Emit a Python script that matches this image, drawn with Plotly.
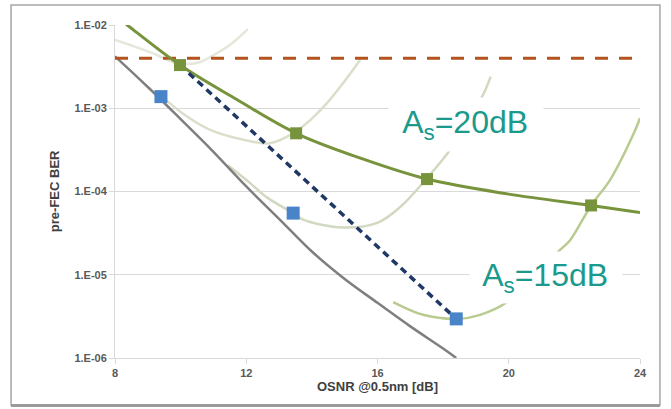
import plotly.graph_objects as go

# ---------------- data (OSNR in dB, BER) ----------------
b2b_osnr = [8.0, 9.0, 10.0, 11.0, 12.0, 13.0, 14.0, 15.0, 16.0, 17.0, 18.0, 18.4]
b2b_ber = [4.2e-3, 1.8e-3, 7.4e-4, 3.0e-4, 1.15e-4, 4.7e-5, 1.9e-5, 8.9e-6, 4.6e-6, 2.4e-6, 1.3e-6, 1.0e-6]

p0_osnr = [8.0, 8.6, 9.2, 9.8, 10.2, 10.6, 11.0, 11.5, 12.05]
p0_ber = [6.6e-3, 5.5e-3, 4.5e-3, 3.55e-3, 3.4e-3, 3.6e-3, 4.35e-3, 5.75e-3, 8.9e-3]

p1_osnr = [9.37, 10.13, 10.9, 11.9, 12.73, 13.43, 13.95, 14.46, 14.95, 15.47]
p1_ber = [1.45e-3, 8.3e-4, 5.5e-4, 4.2e-4, 3.8e-4, 5.0e-4, 7.2e-4, 1.15e-3, 2.0e-3, 3.8e-3]

p2_osnr = [11.45, 12.12, 12.63, 13.43, 13.73, 14.95, 15.99, 16.69, 17.51, 18.27, 19.19, 19.45]
p2_ber = [2.05e-4, 1.26e-4, 8.5e-5, 5.5e-5, 4.6e-5, 3.7e-5, 4.2e-5, 6.5e-5, 1.45e-4, 3.4e-4, 1.38e-3, 2.4e-3]

p3_osnr = [16.48, 17.39, 18.43, 19.13, 19.95, 21.57, 21.87, 22.51, 23.09, 23.79, 24.0]
p3_ber = [4.7e-6, 3.3e-6, 2.95e-6, 3.3e-6, 4.7e-6, 2.0e-5, 2.6e-5, 6.8e-5, 1.38e-4, 4.8e-4, 7.6e-4]

env20_osnr = [8.0, 8.37, 9.98, 11.7, 13.52, 15.5, 17.51, 20.0, 22.51, 24.0]
env20_ber = [1.3e-2, 1.0e-2, 3.3e-3, 1.28e-3, 5.0e-4, 2.5e-4, 1.41e-4, 9.3e-5, 6.8e-5, 5.6e-5]

sq20_osnr = [9.98, 13.52, 17.51, 22.51]
sq20_ber = [3.3e-3, 5.0e-4, 1.41e-4, 6.8e-5]

line15_osnr = [9.98, 18.4]
line15_ber = [3.3e-3, 2.95e-6]

sq15_osnr = [9.4, 13.43, 18.4]
sq15_ber = [1.38e-3, 5.5e-5, 2.95e-6]

fec_osnr = [8.0, 24.0]
fec_ber = [4.0e-3, 4.0e-3]

y_ticks = [1e-6, 1e-5, 1e-4, 1e-3, 1e-2]
y_tick_text = ["1.E-06", "1.E-05", "1.E-04", "1.E-03", "1.E-02"]
x_ticks = [8, 12, 16, 20, 24]

# ---------------- figure ----------------
fig = go.Figure()

def pale(x, y, color):
    fig.add_trace(go.Scatter(x=x, y=y, mode="lines", line=dict(color=color, width=2.5, shape="spline"),
                             hoverinfo="skip"))

pale(p0_osnr, p0_ber, "#e4e8db")
pale(p1_osnr, p1_ber, "#d9dfca")
pale(p2_osnr, p2_ber, "#d2d9c1")
pale(p3_osnr, p3_ber, "#b9cb90")

fig.add_trace(go.Scatter(x=b2b_osnr, y=b2b_ber, mode="lines",
                         line=dict(color="#7f7f7f", width=2.5, shape="spline")))
fig.add_trace(go.Scatter(x=fec_osnr, y=fec_ber, mode="lines",
                         line=dict(color="#b4541c", width=3, dash="13px,11px")))
fig.add_trace(go.Scatter(x=env20_osnr, y=env20_ber, mode="lines",
                         line=dict(color="#77933c", width=3, shape="spline")))
fig.add_trace(go.Scatter(x=line15_osnr, y=line15_ber, mode="lines",
                         line=dict(color="#1f3864", width=3.5, dash="7px,5px")))
fig.add_trace(go.Scatter(x=sq20_osnr, y=sq20_ber, mode="markers",
                         marker=dict(symbol="square", size=12, color="#77933c", line=dict(width=0))))
fig.add_trace(go.Scatter(x=sq15_osnr, y=sq15_ber, mode="markers",
                         marker=dict(symbol="square", size=13, color="#4a84c8", line=dict(width=0))))

tickfont = dict(family="Liberation Sans, Arial", size=11, color="#595959", weight="bold")

fig.update_layout(
    width=671, height=409,
    margin=dict(l=115, r=31, t=25, b=51),
    paper_bgcolor="white", plot_bgcolor="white",
    showlegend=False,
    xaxis=dict(range=[8, 24], tickvals=x_ticks, ticktext=[str(v) for v in x_ticks],
               showgrid=False, zeroline=False, showline=True, linecolor="#d9d9d9", linewidth=1,
               ticks="outside", ticklen=5, tickcolor="#d9d9d9",
               tickfont=tickfont),
    yaxis=dict(type="log", range=[-6, -2], tickvals=y_ticks, ticktext=y_tick_text,
               showgrid=True, gridcolor="#d9d9d9", gridwidth=1, zeroline=False,
               showline=True, linecolor="#d9d9d9", linewidth=1,
               ticks="outside", ticklen=5, tickcolor="#d9d9d9",
               tickfont=tickfont),
    annotations=[
        dict(text="<b>pre-FEC BER</b>", xref="paper", yref="paper", x=-0.133, y=0.50,
             textangle=-90, showarrow=False, font=dict(family="Liberation Sans, Arial", size=13, color="#404040")),
        dict(text="<b>OSNR @0.5nm [dB]</b>", xref="paper", yref="paper", x=0.5, y=-0.114,
             showarrow=False, font=dict(family="Liberation Sans, Arial", size=13, color="#404040")),
        dict(text=" A<sub>s</sub>=20dB ", x=18.70, y=-3.20, xref="x", yref="y", showarrow=False,
             bgcolor="white", borderpad=6, xanchor="center", yanchor="middle",
             font=dict(family="Liberation Sans, Arial", size=32, color="#1a9a8c")),
        dict(text=" A<sub>s</sub>=15dB ", x=21.14, y=-5.03, xref="x", yref="y", showarrow=False,
             bgcolor="white", borderpad=5, xanchor="center", yanchor="middle",
             font=dict(family="Liberation Sans, Arial", size=32, color="#1a9a8c")),
    ],
    shapes=[
        dict(type="rect", xref="paper", yref="paper", x0=-0.198, x1=1.038, y0=-0.141, y1=1.060,
             line=dict(color="#a6a6a6", width=1.5), layer="below"),
        dict(type="line", xref="paper", yref="paper", x0=-0.198, x1=1.038, y0=-0.143, y1=-0.143,
             line=dict(color="#9a9a9a", width=3)),
    ],
)

fig.write_html("out.html")
